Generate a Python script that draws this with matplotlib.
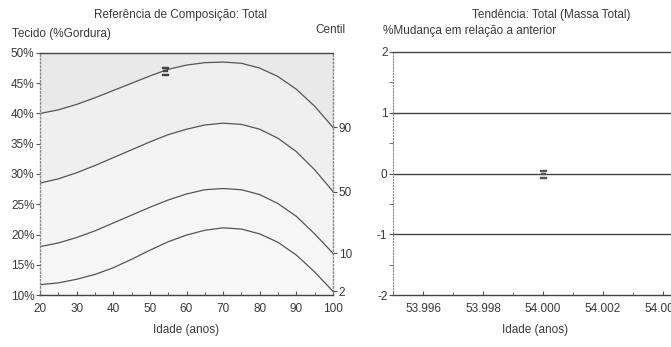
import matplotlib
matplotlib.use("Agg")
import matplotlib.pyplot as plt
import numpy as np

plt.rcParams['font.family'] = ['Liberation Sans', 'DejaVu Sans']
plt.rcParams['axes.unicode_minus'] = False

# ---- data ----
ages = [20, 25, 30, 35, 40, 45, 50, 55, 60, 65, 70, 75, 80, 85, 90, 95, 100]
c90 = [40.0, 40.6, 41.5, 42.6, 43.8, 45.0, 46.2, 47.3, 48.0, 48.4, 48.5, 48.3, 47.5, 46.1, 44.0, 41.2, 37.7]
c50 = [28.5, 29.2, 30.2, 31.4, 32.7, 34.0, 35.3, 36.5, 37.4, 38.1, 38.4, 38.2, 37.4, 35.9, 33.7, 30.7, 27.1]
c10 = [18.0, 18.6, 19.5, 20.6, 21.9, 23.2, 24.5, 25.7, 26.7, 27.4, 27.6, 27.4, 26.6, 25.1, 23.0, 20.1, 16.9]
c2 = [11.7, 12.0, 12.6, 13.4, 14.5, 15.9, 17.4, 18.8, 19.9, 20.7, 21.1, 20.9, 20.1, 18.7, 16.6, 13.8, 10.6]
centile_labels = ['90', '50', '10', '2']
x_ticks_left = [20, 30, 40, 50, 60, 70, 80, 90, 100]
y_ticks_left = [10, 15, 20, 25, 30, 35, 40, 45, 50]
patient_age = [54]
patient_fat = [47.0]

trend_levels = [2, 1, 0, -1, -2]
trend_x = [54.000]
trend_y = [0]
trend_xticks = [53.996, 53.998, 54.000, 54.002, 54.004]
trend_xlabels = ['53.996', '53.998', '54.000', '54.002', '54.004']

W, H = 671, 347
fig = plt.figure(figsize=(W / 100, H / 100), dpi=100)
fig.patch.set_facecolor('white')

tc = '#3a3a3a'
lc = '#555555'

# ---- left chart ----
axL = fig.add_axes([40 / W, (H - 295) / H, (333 - 40) / W, (295 - 53) / H])
axL.set_xlim(20, 100)
axL.set_ylim(10, 50)
axL.set_facecolor('#f8f8f8')
axL.fill_between(ages, c90, 50, color='#e9e9e9', lw=0)
axL.fill_between(ages, c50, c90, color='#efefef', lw=0)
axL.fill_between(ages, c10, c50, color='#f4f4f4', lw=0)
axL.fill_between(ages, c2, c10, color='#f6f6f6', lw=0)
for c in (c90, c50, c10, c2):
    axL.plot(ages, c, color='#555555', lw=0.9)
axL.plot(patient_age, patient_fat, marker=r'$\Xi$', color='#444444', ms=6, ls='none')

axL.set_xticks(x_ticks_left)
axL.set_xticks(np.arange(20, 101, 5), minor=True)
axL.set_yticks(y_ticks_left)
axL.set_yticklabels([f'{v}%' for v in y_ticks_left])
axL.tick_params(axis='x', direction='in', length=3, colors=lc, labelcolor=tc, labelsize=8.5, pad=6)
axL.tick_params(axis='x', which='minor', direction='in', length=2, colors=lc)
axL.tick_params(axis='y', direction='out', length=3, colors=lc, labelcolor=tc, labelsize=8.5, pad=1)
for s in ('top', 'bottom'):
    axL.spines[s].set_color('#444444')
    axL.spines[s].set_linewidth(1.0)
for s in ('left', 'right'):
    axL.spines[s].set_color('#888888')
    axL.spines[s].set_linestyle(':')
    axL.spines[s].set_linewidth(1.0)
axL.set_xlabel('Idade (anos)', color=tc, fontsize=8.5, labelpad=6)

axR2 = axL.twinx()
axR2.set_ylim(10, 50)
axR2.set_yticks([c90[-1], c50[-1], c10[-1], c2[-1]])
axR2.set_yticklabels(centile_labels)
axR2.tick_params(axis='y', direction='out', length=3, colors=lc, labelcolor=tc, labelsize=8.5, pad=1)
for s in axR2.spines.values():
    s.set_visible(False)

fig.text(181 / W, 1 - 15 / H, 'Referência de Composição: Total', ha='center', va='center',
         fontsize=8.5, color=tc)
fig.text(12 / W, 1 - 34 / H, 'Tecido (%Gordura)', ha='left', va='center', fontsize=8.5, color=tc)
fig.text(330 / W, 1 - 30 / H, 'Centil', ha='center', va='center', fontsize=8.5, color=tc)

# ---- right chart ----
x0, x1 = 53.995, 54.0045
axT = fig.add_axes([393 / W, (H - 295) / H, (x1 - x0) * 30000 / W, (295 - 52) / H])
axT.set_xlim(x0, x1)
axT.set_ylim(-2, 2)
axT.set_facecolor('white')
for lv in trend_levels[1:-1]:
    axT.axhline(lv, color='#444444', lw=1.0)
axT.plot(trend_x, trend_y, marker=r'$\Xi$', color='#555555', ms=6, ls='none')
axT.set_yticks(trend_levels)
axT.set_yticks([1.5, 0.5, -0.5, -1.5], minor=True)
axT.set_xticks(trend_xticks)
axT.set_xticklabels(trend_xlabels)
axT.set_xticks(np.arange(53.995, 54.0046, 0.001), minor=True)
axT.tick_params(axis='y', direction='out', length=3, colors=lc, labelcolor=tc, labelsize=8.5, pad=1)
axT.tick_params(axis='y', which='minor', direction='out', length=3, colors=lc)
axT.tick_params(axis='x', direction='in', length=3, colors=lc, labelcolor=tc, labelsize=8.5, pad=6)
axT.tick_params(axis='x', which='minor', direction='in', length=2, colors=lc)
axT.spines['right'].set_visible(False)
for s in ('top', 'bottom'):
    axT.spines[s].set_color('#444444')
    axT.spines[s].set_linewidth(1.0)
axT.spines['left'].set_color('#888888')
axT.spines['left'].set_linestyle(':')
axT.set_xlabel('Idade (anos)', color=tc, fontsize=8.5, labelpad=6)

fig.text(551 / W, 1 - 15 / H, 'Tendência: Total (Massa Total)', ha='center', va='center',
         fontsize=8.5, color=tc)
fig.text(383 / W, 1 - 31 / H, '%Mudança em relação a anterior', ha='left', va='center',
         fontsize=8.5, color=tc)

fig.savefig('out.png', dpi=100, facecolor='white')
